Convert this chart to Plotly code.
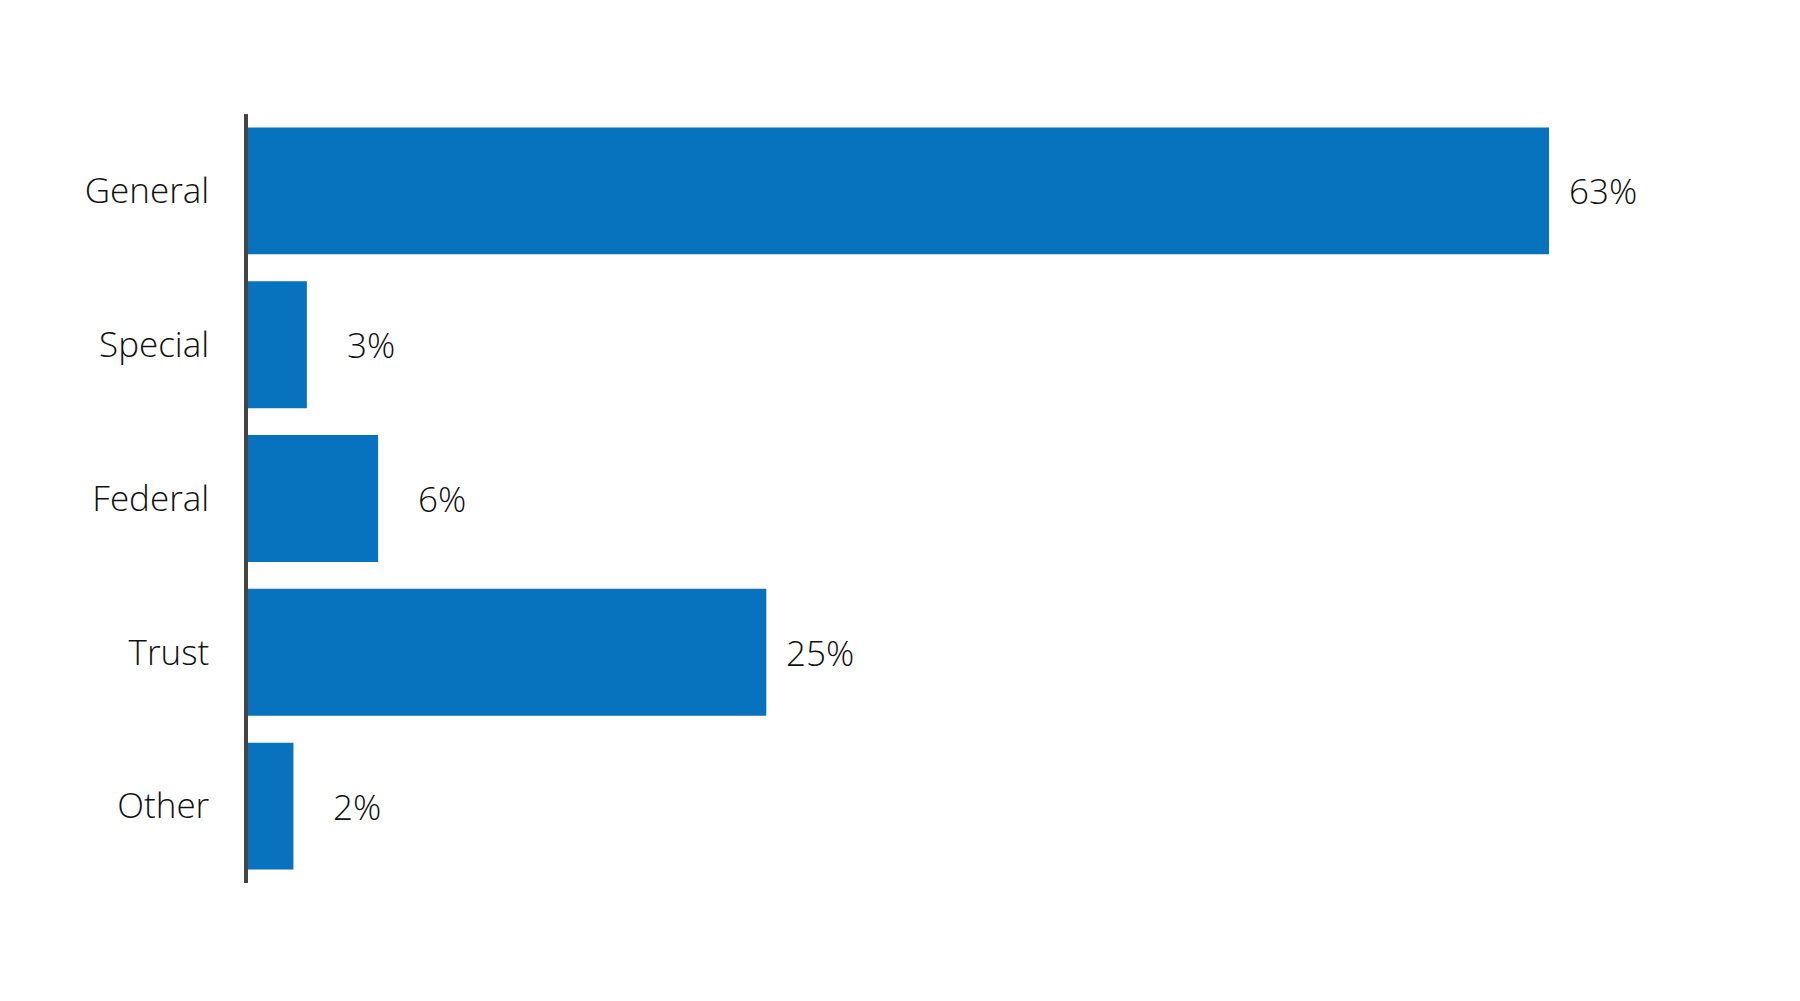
import plotly.graph_objects as go

categories = ["General", "Special", "Federal", "Trust", "Other"]
values = [63.0, 2.85, 6.3, 25.1, 2.2]
labels = ["63%", "3%", "6%", "25%", "2%"]

BAR_COLOR = "#0772BE"
TEXT_COLOR = "#111111"
FONT = "Open Sans"

fig = go.Figure(
    go.Bar(
        x=values,
        y=categories,
        orientation="h",
        marker=dict(color=BAR_COLOR, line=dict(width=0)),
        hoverinfo="skip",
    )
)

for c, v, t in zip(categories, values, labels):
    fig.add_annotation(
        x=v, y=c, text=t, showarrow=False,
        xanchor="left", yanchor="middle",
        xshift=18 if v > 10 else 38,
        font=dict(family=FONT, size=35, color=TEXT_COLOR, weight=300),
    )

fig.update_layout(
    width=1800, height=1001,
    margin=dict(l=240, r=5, t=106, b=126),
    paper_bgcolor="white", plot_bgcolor="white",
    bargap=0.175,
    showlegend=False,
    xaxis=dict(range=[0, 75.3], visible=False, fixedrange=True),
    yaxis=dict(
        categoryorder="array", categoryarray=categories, autorange="reversed",
        showline=True, linecolor="#444444", linewidth=3.5,
        showgrid=False, zeroline=False, ticks="",
        ticklabelstandoff=28,
        tickfont=dict(family=FONT, size=35, color=TEXT_COLOR, weight=300),
    ),
)

fig.write_html("out.html")
